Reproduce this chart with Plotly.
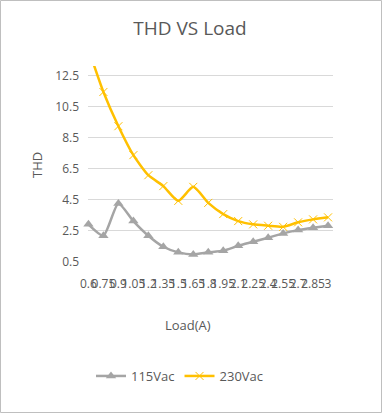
import plotly.graph_objects as go

loads = ["0.6", "0.75", "0.9", "1.05", "1.2", "1.35", "1.5", "1.65", "1.8", "1.95",
         "2.1", "2.25", "2.4", "2.55", "2.7", "2.85", "3"]
thd_115 = [2.92, 2.19, 4.26, 3.13, 2.19, 1.48, 1.12, 0.99, 1.12, 1.23,
           1.54, 1.80, 2.06, 2.34, 2.55, 2.70, 2.83]
thd_230 = [14.2, 11.43, 9.23, 7.37, 6.08, 5.38, 4.43, 5.33, 4.30, 3.58,
           3.13, 2.92, 2.83, 2.76, 3.05, 3.24, 3.37]
y_ticks = [0.5, 2.5, 4.5, 6.5, 8.5, 10.5, 12.5]

idx = list(range(len(loads)))
font_c = "#595959"
F = "Open Sans"

fig = go.Figure()
fig.add_trace(go.Scatter(
    x=idx, y=thd_115, name="115Vac", mode="lines+markers",
    line=dict(color="#A5A5A5", width=2.5, shape="spline", smoothing=0.6),
    marker=dict(symbol="triangle-up", size=9, color="#A5A5A5"),
    cliponaxis=False))
fig.add_trace(go.Scatter(
    x=idx, y=thd_230, name="230Vac", mode="lines+markers",
    line=dict(color="#FFC000", width=2.5, shape="spline", smoothing=0.6),
    marker=dict(symbol="x-thin", size=8, color="#FFC000",
                line=dict(color="#FFC000", width=1)),
    cliponaxis=True))

W, H = 382, 413
l, r, t, b = 88, 49, 66, 151
pw, ph = W - l - r, H - t - b

fig.update_layout(
    width=W, height=H,
    margin=dict(l=l, r=r, t=t, b=b, autoexpand=False),
    paper_bgcolor="white", plot_bgcolor="white",
    font=dict(family=F, color=font_c, size=12),
    title=dict(text="THD VS Load", x=190 / W, xanchor="center",
               y=1 - 28 / H, yanchor="middle",
               font=dict(size=19, color=font_c, family=F)),
    showlegend=True,
    legend=dict(orientation="h", x=(180 - l) / pw, xanchor="center",
                y=-(376 - (t + ph)) / ph, yanchor="middle",
                font=dict(size=13, color=font_c), itemwidth=30,
                bgcolor="rgba(0,0,0,0)"),
    xaxis=dict(range=[-0.03, 16.33], tickmode="array", tickvals=idx,
               ticktext=loads, tickangle=0, showgrid=False, zeroline=False,
               showline=False, ticks="", tickfont=dict(size=12, color=font_c),
               ticklabelstandoff=13, fixedrange=True),
    yaxis=dict(range=[0.5, 13.1], tickmode="array", tickvals=y_ticks,
               ticktext=[str(v) for v in y_ticks],
               showgrid=True, gridcolor="#D9D9D9", gridwidth=1,
               zeroline=False, showline=False, ticks="", ticklabelstandoff=8,
               tickfont=dict(size=12, color=font_c)),
    annotations=[
        dict(text="Load(A)", xref="paper", yref="paper",
             x=(188 - l) / pw, y=-(325 - (t + ph)) / ph,
             xanchor="center", yanchor="middle", showarrow=False,
             font=dict(size=13, color=font_c)),
        dict(text="THD", xref="paper", yref="paper",
             x=(37 - l) / pw, y=1 - (165 - t) / ph, textangle=-90,
             xanchor="center", yanchor="middle", showarrow=False,
             font=dict(size=13, color=font_c)),
    ],
    shapes=[dict(type="rect", xref="paper", yref="paper",
                 x0=(0.5 - l) / pw, x1=(W - 0.5 - l) / pw,
                 y0=-(H - 0.5 - t - ph) / ph, y1=1 + (t - 0.5) / ph,
                 line=dict(color="#BFBFBF", width=1), layer="below")],
)

fig.write_html("out.html", config={"displayModeBar": False},
               post_script="document.body.style.margin='0';document.body.style.padding='0';")
